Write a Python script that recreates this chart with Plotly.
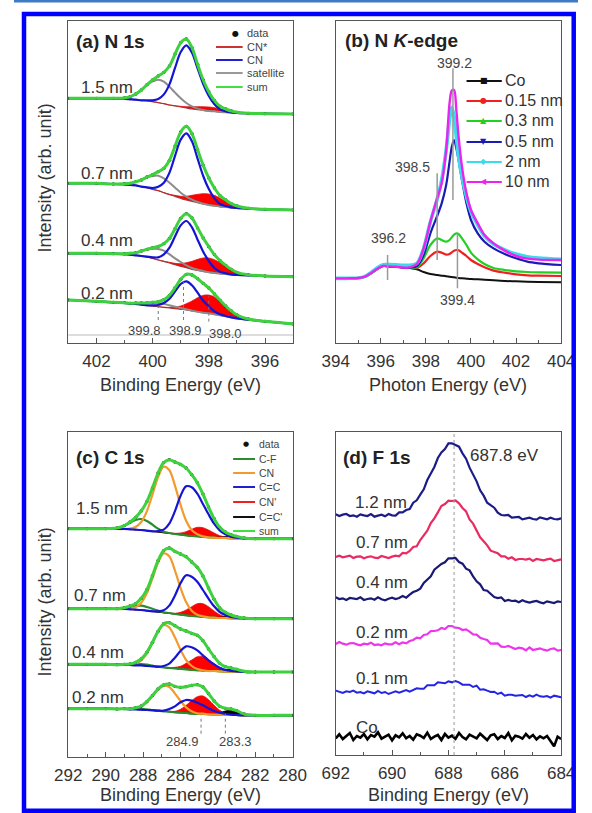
import plotly.graph_objects as go

W, H = 592, 813
FONT = "Liberation Sans, Arial, Helvetica, sans-serif"

# ---------------- (a) N 1s : binding energy grid and fitted components ----------------
A_E = [403.0, 402.0, 401.4, 401.0, 400.8, 400.6, 400.4, 400.2, 400.0, 399.8, 399.6, 399.4, 399.2,
       399.0, 398.8, 398.6, 398.4, 398.2, 398.0, 397.8, 397.6, 397.4, 397.2, 397.0, 396.6, 396.0, 395.0]
A_NAMES = ["1.5 nm", "0.7 nm", "0.4 nm", "0.2 nm"]
A_BG_15 = [734, 734, 733, 732, 731, 730, 728, 727, 724, 721, 718, 714, 711, 708, 705, 702, 700, 698, 696, 695, 693, 692, 691, 690, 689, 688, 687]
A_BG_07 = [479, 479, 477, 476, 474, 473, 469, 466, 461, 457, 451, 445, 440, 434, 429, 425, 421, 417, 414, 412, 409, 408, 406, 405, 403, 401, 399]
A_BG_04 = [269, 269, 268, 266, 265, 263, 261, 258, 254, 249, 245, 240, 235, 230, 226, 221, 218, 215, 212, 210, 208, 207, 205, 204, 203, 201, 199]
A_BG_02 = [129, 125, 122, 120, 118, 117, 115, 113, 111, 109, 107, 105, 103, 101, 99, 96, 94, 91, 89, 86, 83, 80, 77, 74, 70, 65, 57]
A_CN_15 = [0, 0, 0, 0, 0, 0, 0, 1, 4, 11, 28, 62, 115, 165, 188, 169, 124, 79, 45, 21, 8, 3, 1, 0, 0, 0, 0]
A_CN_07 = [0, 0, 0, 0, 0, 0, 0, 1, 4, 12, 30, 66, 122, 176, 200, 180, 132, 84, 48, 22, 8, 3, 1, 0, 0, 0, 0]
A_CN_04 = [0, 0, 0, 0, 0, 0, 0, 1, 3, 8, 21, 46, 85, 123, 140, 126, 92, 59, 34, 15, 6, 2, 1, 0, 0, 0, 0]
A_CN_02 = [0, 0, 0, 0, 0, 0, 0, 0, 2, 5, 13, 28, 52, 76, 86, 77, 57, 36, 21, 9, 3, 1, 0, 0, 0, 0, 0]
A_SAT_15 = [0, 0, 1, 3, 8, 17, 31, 47, 61, 69, 66, 55, 40, 26, 15, 8, 3, 1, 0, 0, 0, 0, 0, 0, 0, 0, 0]
A_SAT_07 = [0, 0, 0, 2, 5, 11, 20, 31, 40, 45, 43, 36, 26, 17, 10, 5, 2, 1, 0, 0, 0, 0, 0, 0, 0, 0, 0]
A_SAT_04 = [0, 0, 0, 2, 4, 8, 15, 22, 29, 33, 32, 26, 19, 13, 7, 4, 2, 1, 0, 0, 0, 0, 0, 0, 0, 0, 0]
A_SAT_02 = [0, 0, 0, 1, 1, 3, 5, 7, 9, 10, 10, 8, 6, 4, 2, 1, 0, 0, 0, 0, 0, 0, 0, 0, 0, 0, 0]
A_CNS_15 = [0, 0, 0, 0, 0, 0, 0, 0, 0, 0, 0, 0, 1, 2, 4, 7, 9, 11, 12, 11, 9, 7, 4, 2, 0, 0, 0]
A_CNS_07 = [0, 0, 0, 0, 0, 0, 0, 0, 0, 0, 0, 1, 3, 6, 11, 18, 25, 31, 33, 31, 25, 18, 11, 6, 1, 0, 0]
A_CNS_04 = [0, 0, 0, 0, 0, 0, 0, 0, 0, 0, 0, 2, 4, 8, 15, 24, 33, 40, 43, 40, 33, 24, 15, 8, 2, 0, 0]
A_CNS_02 = [0, 0, 0, 0, 0, 0, 0, 0, 0, 0, 0, 2, 5, 10, 19, 30, 42, 52, 55, 52, 42, 30, 19, 10, 2, 0, 0]
A_PEAK_LABELS = ["399.8", "398.9", "398.0"]

# ---------------- (b) N K-edge ----------------
B_E = [394.0, 394.5, 395.0, 395.3, 395.6, 395.9, 396.1, 396.4, 396.8, 397.2, 397.6, 397.9, 398.2, 398.5,
       398.7, 398.9, 399.05, 399.15, 399.25, 399.35, 399.45, 399.6, 399.8, 400.0, 400.3, 400.6, 401.0,
       401.5, 402.0, 402.5, 403.0, 404.0]
B_NAMES = ["Co", "0.15 nm", "0.3 nm", "0.5 nm", "2 nm", "10 nm"]
B_CO = [195, 195, 196, 200, 212, 226, 232, 231, 229, 227, 222, 214, 208, 205, 203, 201, 200, 199, 198, 197, 196, 195, 194, 193, 192, 191, 189, 187, 186, 185, 184, 183]
B_015 = [195, 195, 196, 200, 212, 226, 232, 231, 229, 227, 226, 240, 262, 275, 272, 266, 268, 273, 278, 280, 279, 272, 262, 250, 238, 228, 218, 212, 207, 204, 203, 202]
B_03 = [195, 195, 196, 200, 212, 226, 232, 231, 229, 227, 228, 255, 295, 315, 310, 305, 310, 318, 326, 330, 328, 315, 295, 272, 252, 238, 226, 220, 216, 214, 213, 212]
B_05 = [195, 195, 196, 200, 212, 226, 232, 231, 229, 227, 232, 265, 330, 382, 420, 475, 545, 590, 610, 585, 550, 490, 420, 370, 330, 305, 285, 268, 255, 245, 240, 235]
B_2 = [195, 195, 196, 201, 214, 229, 236, 236, 235, 234, 240, 285, 365, 432, 490, 580, 670, 708, 680, 620, 560, 500, 440, 395, 355, 322, 298, 280, 268, 260, 256, 252]
B_10 = [195, 195, 196, 200, 212, 226, 232, 231, 229, 227, 238, 285, 365, 435, 480, 580, 720, 758, 760, 700, 620, 530, 450, 400, 360, 325, 300, 278, 262, 254, 251, 250]
B_PEAK_LABELS = ["399.2", "398.5", "396.2", "399.4"]

# ---------------- (c) C 1s ----------------
C_E = [292.0, 291.0, 290.0, 289.4, 289.0, 288.7, 288.4, 288.1, 287.8, 287.5, 287.2, 286.9, 286.6, 286.3,
       286.0, 285.7, 285.4, 285.1, 284.8, 284.5, 284.2, 283.9, 283.6, 283.3, 283.0, 282.6, 282.0, 281.0, 280.0]
C_NAMES = ["1.5 nm", "0.7 nm", "0.4 nm", "0.2 nm"]
C_BG_15 = [685, 685, 685, 684, 684, 683, 682, 681, 679, 677, 675, 673, 671, 669, 667, 665, 663, 662, 660, 659, 658, 657, 657, 656, 656, 656, 655, 655, 655]
C_BG_07 = [445, 445, 445, 444, 444, 443, 442, 441, 439, 437, 435, 433, 431, 429, 427, 425, 423, 422, 420, 419, 418, 417, 417, 416, 416, 416, 415, 415, 415]
C_BG_04 = [278, 278, 278, 277, 277, 276, 275, 275, 273, 272, 270, 269, 267, 266, 264, 263, 261, 260, 259, 258, 258, 257, 256, 256, 256, 255, 255, 255, 255]
C_BG_02 = [145, 145, 145, 144, 144, 143, 143, 142, 141, 140, 138, 137, 136, 134, 133, 132, 130, 129, 129, 128, 127, 127, 126, 126, 126, 125, 125, 125, 125]
C_CF_15 = [0, 0, 0, 3, 10, 20, 29, 33, 29, 20, 10, 3, 1, 0, 0, 0, 0, 0, 0, 0, 0, 0, 0, 0, 0, 0, 0, 0, 0]
C_CF_07 = [0, 0, 0, 1, 4, 8, 11, 13, 11, 8, 4, 1, 1, 0, 0, 0, 0, 0, 0, 0, 0, 0, 0, 0, 0, 0, 0, 0, 0]
C_CF_04 = [0, 0, 0, 0, 1, 2, 4, 4, 4, 2, 1, 0, 0, 0, 0, 0, 0, 0, 0, 0, 0, 0, 0, 0, 0, 0, 0, 0, 0]
C_CF_02 = [0, 0, 0, 0, 1, 1, 2, 2, 2, 1, 1, 0, 0, 0, 0, 0, 0, 0, 0, 0, 0, 0, 0, 0, 0, 0, 0, 0, 0]
C_CN_15 = [0, 0, 0, 0, 0, 2, 8, 24, 58, 110, 164, 198, 190, 146, 90, 44, 18, 6, 2, 0, 0, 0, 0, 0, 0, 0, 0, 0, 0]
C_CN_07 = [0, 0, 0, 0, 0, 2, 7, 22, 52, 99, 148, 178, 171, 131, 81, 40, 16, 5, 2, 0, 0, 0, 0, 0, 0, 0, 0, 0, 0]
C_CN_04 = [0, 0, 0, 0, 0, 1, 5, 15, 37, 70, 105, 127, 122, 93, 58, 28, 12, 4, 1, 0, 0, 0, 0, 0, 0, 0, 0, 0, 0]
C_CN_02 = [0, 0, 0, 0, 0, 1, 3, 9, 23, 43, 64, 77, 74, 57, 35, 17, 7, 2, 1, 0, 0, 0, 0, 0, 0, 0, 0, 0, 0]
C_CC_15 = [0, 0, 0, 0, 0, 0, 0, 0, 0, 0, 3, 9, 29, 68, 116, 147, 146, 128, 99, 69, 42, 23, 11, 5, 2, 0, 0, 0, 0]
C_CC_07 = [0, 0, 0, 0, 0, 0, 0, 0, 0, 0, 2, 7, 23, 55, 94, 120, 118, 104, 81, 56, 34, 18, 9, 4, 1, 0, 0, 0, 0]
C_CC_04 = [0, 0, 0, 0, 0, 0, 0, 0, 0, 0, 1, 4, 13, 32, 54, 69, 68, 60, 46, 32, 20, 11, 5, 2, 1, 0, 0, 0, 0]
C_CC_02 = [0, 0, 0, 0, 0, 0, 0, 0, 0, 0, 1, 2, 8, 18, 31, 39, 39, 34, 26, 18, 11, 6, 3, 1, 0, 0, 0, 0, 0]
C_CNP_15 = [0, 0, 0, 0, 0, 0, 0, 0, 0, 0, 0, 0, 1, 2, 5, 11, 20, 27, 28, 22, 14, 7, 3, 1, 0, 0, 0, 0, 0]
C_CNP_07 = [0, 0, 0, 0, 0, 0, 0, 0, 0, 0, 0, 0, 1, 2, 7, 16, 28, 38, 40, 32, 20, 10, 4, 1, 0, 0, 0, 0, 0]
C_CNP_04 = [0, 0, 0, 0, 0, 0, 0, 0, 0, 0, 0, 0, 1, 3, 8, 18, 30, 41, 43, 34, 22, 10, 4, 1, 0, 0, 0, 0, 0]
C_CNP_02 = [0, 0, 0, 0, 0, 0, 0, 0, 0, 0, 0, 0, 1, 3, 10, 23, 39, 52, 54, 44, 28, 13, 5, 2, 1, 0, 0, 0, 0]
C_CCP_15 = [0, 0, 0, 0, 0, 0, 0, 0, 0, 0, 0, 0, 0, 0, 0, 0, 0, 0, 0, 0, 1, 2, 4, 5, 4, 1, 0, 0, 0]
C_CCP_07 = [0, 0, 0, 0, 0, 0, 0, 0, 0, 0, 0, 0, 0, 0, 0, 0, 0, 0, 0, 0, 1, 2, 4, 5, 4, 1, 0, 0, 0]
C_CCP_04 = [0, 0, 0, 0, 0, 0, 0, 0, 0, 0, 0, 0, 0, 0, 0, 0, 0, 0, 0, 0, 1, 3, 6, 8, 6, 2, 0, 0, 0]
C_CCP_02 = [0, 0, 0, 0, 0, 0, 0, 0, 0, 0, 0, 0, 0, 0, 0, 0, 0, 0, 0, 0, 2, 6, 12, 15, 12, 4, 0, 0, 0]
C_PEAK_LABELS = ["284.9", "283.3"]

# ---------------- (d) F 1s ----------------
D_E = [692.0, 691.875, 691.75, 691.625, 691.5, 691.375, 691.25, 691.125, 691.0, 690.875, 690.75, 690.625,
       690.5, 690.375, 690.25, 690.125, 690.0, 689.875, 689.75, 689.625, 689.5, 689.375, 689.25, 689.125,
       689.0, 688.875, 688.75, 688.625, 688.5, 688.375, 688.25, 688.125, 688.0, 687.875, 687.75, 687.625,
       687.5, 687.375, 687.25, 687.125, 687.0, 686.875, 686.75, 686.625, 686.5, 686.375, 686.25, 686.125,
       686.0, 685.875, 685.75, 685.625, 685.5, 685.375, 685.25, 685.125, 685.0, 684.875, 684.75, 684.625,
       684.5, 684.375, 684.25, 684.125, 684.0]
D_NAMES = ["1.2 nm", "0.7 nm", "0.4 nm", "0.2 nm", "0.1 nm", "Co"]
D_12 = [722, 717, 721, 723, 717, 719, 715, 722, 719, 717, 723, 715, 718, 721, 716, 723, 719, 718, 728, 728,
        735, 738, 757, 764, 781, 797, 825, 844, 864, 891, 908, 918, 935, 935, 930, 925, 905, 889, 862, 842,
        821, 794, 778, 757, 750, 742, 727, 720, 719, 720, 712, 713, 714, 707, 710, 712, 708, 706, 713, 710,
        707, 712, 708, 707, 710]
D_07 = [594, 598, 593, 595, 598, 591, 595, 596, 590, 594, 596, 592, 591, 597, 595, 591, 595, 598, 596, 606,
        605, 612, 624, 626, 645, 659, 673, 696, 710, 728, 747, 753, 763, 762, 764, 755, 741, 731, 707, 694,
        673, 653, 641, 629, 613, 608, 605, 596, 596, 589, 593, 585, 588, 588, 586, 589, 582, 588, 586, 584,
        587, 589, 582, 585, 587]
D_04 = [473, 468, 470, 465, 471, 470, 468, 473, 465, 468, 470, 466, 473, 467, 464, 469, 472, 468, 471, 477,
        472, 481, 489, 493, 499, 516, 525, 536, 556, 565, 573, 578, 590, 590, 591, 579, 574, 559, 554, 536,
        521, 512, 495, 493, 484, 474, 471, 473, 462, 465, 462, 463, 458, 464, 460, 457, 460, 462, 458, 455,
        461, 459, 456, 461, 459]
D_02 = [333, 339, 334, 331, 335, 336, 332, 329, 334, 332, 337, 330, 332, 329, 335, 332, 332, 338, 332, 338,
        335, 342, 345, 352, 350, 360, 362, 372, 372, 374, 381, 378, 387, 387, 382, 381, 375, 377, 370, 362,
        361, 352, 348, 345, 334, 335, 335, 325, 324, 327, 322, 318, 322, 320, 314, 323, 315, 317, 320, 316,
        313, 318, 320, 313, 315]
D_01 = [193, 189, 186, 191, 189, 193, 187, 189, 185, 191, 188, 185, 192, 186, 189, 183, 187, 191, 187, 191,
        195, 190, 195, 200, 199, 199, 209, 210, 209, 218, 216, 215, 221, 218, 222, 218, 211, 212, 211, 204,
        208, 196, 197, 193, 189, 190, 183, 187, 178, 181, 181, 178, 178, 180, 174, 179, 175, 181, 176, 175,
        177, 172, 178, 175, 173]
D_CO = [50, 62, 48, 58, 66, 45, 57, 52, 63, 47, 60, 55, 68, 49, 56, 61, 44, 59, 53, 65,
        50, 57, 46, 62, 58, 51, 67, 48, 55, 60, 45, 63, 52, 58, 49, 66, 54, 47, 61, 56,
        50, 64, 53, 45, 59, 62, 48, 57, 51, 66, 44, 58, 55, 49, 63, 52, 60, 47, 56, 50,
        57, 42, 26, 55, 48]

# ======================================================================
fig = go.Figure()


def add(*arrs):
    return [sum(v) for v in zip(*arrs)]


def line(x, y, sub, color, width, shape="spline", fill=None, fillcolor=None):
    fig.add_trace(go.Scatter(
        x=x, y=y, xaxis="x" + sub, yaxis="y" + sub, mode="lines",
        line=dict(color=color, width=width, shape=shape, smoothing=0.9 if shape == "spline" else None),
        fill=fill, fillcolor=fillcolor, hoverinfo="skip", showlegend=False))


def dots(x, y, sub):
    fig.add_trace(go.Scatter(x=x, y=y, xaxis="x" + sub, yaxis="y" + sub, mode="markers",
                             marker=dict(size=3.4, color="#111111"), hoverinfo="skip", showlegend=False))


def band(x, base, top, sub, color, edge):
    line(x, base, sub, "rgba(0,0,0,0)", 0)
    line(x, top, sub, edge, 0.8, fill="tonexty", fillcolor=color)


GREEN_SUM = "#3DD23D"

# ---- panel (a)
A_SETS = [(A_BG_15, A_CN_15, A_SAT_15, A_CNS_15), (A_BG_07, A_CN_07, A_SAT_07, A_CNS_07),
          (A_BG_04, A_CN_04, A_SAT_04, A_CNS_04), (A_BG_02, A_CN_02, A_SAT_02, A_CNS_02)]
for bg, cn, sat, cns in A_SETS:
    band(A_E, bg, add(bg, cns), "", "#FF0000", "#E01515")
    line(A_E, bg, "", "#A83232", 1.2)
    line(A_E, add(bg, sat), "", "#8C8C8C", 2)
    line(A_E, add(bg, cn), "", "#1414D4", 2.2)
    total = add(bg, cn, sat, cns)
    dots(A_E, total, "")
    line(A_E, total, "", GREEN_SUM, 3)

# ---- panel (b)
B_SERIES = [B_CO, B_015, B_03, B_05, B_2, B_10]
B_COLORS = ["#111111", "#F02020", "#22D022", "#1A1AB4", "#3ADCEC", "#EE22EE"]
B_WIDTHS = [2, 2.2, 2.2, 2.2, 3.6, 2.4]
for ys, c, w in zip(B_SERIES, B_COLORS, B_WIDTHS):
    line(B_E, ys, "2", c, w)

# ---- panel (c)
C_SETS = [(C_BG_15, C_CF_15, C_CN_15, C_CC_15, C_CNP_15, C_CCP_15),
          (C_BG_07, C_CF_07, C_CN_07, C_CC_07, C_CNP_07, C_CCP_07),
          (C_BG_04, C_CF_04, C_CN_04, C_CC_04, C_CNP_04, C_CCP_04),
          (C_BG_02, C_CF_02, C_CN_02, C_CC_02, C_CNP_02, C_CCP_02)]
for bg, cf, cn, cc, cnp, ccp in C_SETS:
    band(C_E, bg, add(bg, cnp), "3", "#FF0000", "#E01515")
    band(C_E, bg, add(bg, ccp), "3", "#000000", "#000000")
    line(C_E, bg, "3", "#222222", 1.2)
    line(C_E, add(bg, cf), "3", "#2D8A2D", 2.2)
    line(C_E, add(bg, cn), "3", "#F39A2E", 2.2)
    line(C_E, add(bg, cc), "3", "#1414D4", 2.2)
    total = add(bg, cf, cn, cc, cnp, ccp)
    dots(C_E, total, "3")
    line(C_E, total, "3", GREEN_SUM, 3)

# ---- panel (d)
D_SERIES = [D_12, D_07, D_04, D_02, D_01, D_CO]
D_COLORS = ["#1C1C86", "#E82C62", "#1A1A74", "#EC36EC", "#2424E6", "#000000"]
D_WIDTHS = [2.2, 2.2, 2.2, 2.2, 2.0, 2.6]
for ys, c, w in zip(D_SERIES, D_COLORS, D_WIDTHS):
    line(D_E, ys, "4", c, w, shape="linear")

# ======================================================================
ann, shapes = [], []


def text(x, y, s, size, anchor="center", color="#333333", angle=0, family=FONT):
    ann.append(dict(x=x / W, y=1 - y / H, xref="paper", yref="paper", text=s, showarrow=False,
                    xanchor=anchor, yanchor="middle", textangle=angle, borderpad=0,
                    font=dict(size=size, color=color, family=family)))


def pline(x0, y0, x1, y1, color, width, dash="solid"):
    shapes.append(dict(type="line", xref="paper", yref="paper", x0=x0 / W, y0=1 - y0 / H,
                       x1=x1 / W, y1=1 - y1 / H, line=dict(color=color, width=width, dash=dash)))


def vmark(sub, x, y0, y1, color, width, dash):
    shapes.append(dict(type="line", xref="x" + sub, yref="y" + sub, x0=x, x1=x, y0=y0, y1=y1,
                       line=dict(color=color, width=width, dash=dash)))


# blue frame and thin top rule
shapes.append(dict(type="rect", xref="paper", yref="paper", x0=0, x1=1, y0=1 - 2.6 / H, y1=1,
                   line=dict(width=0), fillcolor="#3E7AC6"))
shapes.append(dict(type="rect", xref="paper", yref="paper", x0=10.5 / W, x1=587.5 / W,
                   y0=1 - 810.8 / H, y1=1 - 14 / H, line=dict(color="#0000FF", width=4.5),
                   fillcolor="rgba(0,0,0,0)"))

# ---- panel (a) texts
text(64, 42, "<b>(a) N 1s</b>", 19, "left", "#222222")
for name, yy in zip(A_NAMES, [87, 173, 240, 293]):
    text(98, yy, name, 17)
for lab, xx, yy in zip(A_PEAK_LABELS, [137, 180, 222], [330, 330, 333]):
    text(xx, yy, lab, 13, color="#444444")
vmark("", 399.8, 69, 112, "#777777", 1, "dot")
vmark("", 398.9, 69, 184, "#777777", 1, "dot")
vmark("", 398.0, 64, 140, "#777777", 1, "dot")
shapes.append(dict(type="line", xref="x domain", yref="y", x0=0, x1=1, y0=24, y1=24,
                   line=dict(color="#BBBBBB", width=1)))
A_LEG = [("data", None), ("CN*", "#CC3333"), ("CN", "#2222CC"), ("satellite", "#999999"), ("sum", "#44DD44")]
for (lab, col), yy in zip(A_LEG, [33, 47, 60, 73, 87]):
    if col is None:
        text(232, yy, "●", 8, color="#111111", family="DejaVu Sans")
    else:
        pline(212, yy, 240, yy, col, 2)
    text(243, yy, lab, 11, "left", "#444444")

# ---- panel (b) texts
text(346, 40, "<b>(b) N <i>K</i>-edge</b>", 19, "left", "#222222")
for lab, xx, yy in zip(B_PEAK_LABELS, [462, 418, 393, 465], [63, 167, 238, 300]):
    text(xx, yy, lab, 14, color="#444444")
vmark("2", 399.2, 430, 825, "#999999", 1.5, "solid")
vmark("2", 398.5, 250, 510, "#999999", 1.5, "solid")
vmark("2", 396.3, 190, 265, "#999999", 1.5, "solid")
vmark("2", 399.4, 165, 330, "#999999", 1.5, "solid")
B_GLYPHS = ["■", "●", "▲", "▼", "◆", "◀"]
for name, col, g, yy in zip(B_NAMES, B_COLORS, B_GLYPHS, [81, 101, 121, 142, 162, 182]):
    pline(475, yy, 512, yy, col, 2.2)
    text(493, yy, g, 8, color=col, family="DejaVu Sans")
    text(514, yy, name, 16, "left", "#333333")

# ---- panel (c) texts
text(64, 457, "<b>(c) C 1s</b>", 19, "left", "#222222")
for name, xx, yy in zip(C_NAMES, [92, 90, 88, 88], [508, 595, 652, 697]):
    text(xx, yy, name, 17)
for lab, xx in zip(C_PEAK_LABELS, [177, 233]):
    text(xx, 741, lab, 13, color="#444444")
vmark("3", 284.9, 70, 125, "#777777", 1, "dot")
vmark("3", 283.6, 70, 130, "#777777", 1, "dot")
C_LEG = [("data", None), ("C-F", "#2D8A2D"), ("CN", "#F39A2E"), ("C=C", "#2020D0"),
         ("CN'", "#EE2020"), ("C=C'", "#111111"), ("sum", "#44DD44")]
for (lab, col), yy in zip(C_LEG, [444, 459, 473, 487, 502, 517, 531]):
    if col is None:
        text(243, yy, "●", 7, color="#111111", family="DejaVu Sans")
    else:
        pline(230, yy, 253, yy, col, 2)
    text(256, yy, lab, 10.5, "left", "#444444")

# ---- panel (d) texts
text(344, 457, "<b>(d) F 1s</b>", 19, "left", "#222222")
text(478, 455, "687.8 eV", 17, "left")
for name, xx, yy in zip(D_NAMES, [385, 386, 386, 386, 386, 370], [503, 542, 582, 632, 678, 727]):
    text(xx, yy, name, 17)
shapes.append(dict(type="line", xref="x4", yref="y4 domain", x0=687.8, x1=687.8, y0=0, y1=1,
                   line=dict(color="#999999", width=1, dash="dot")))

# ---- axis titles
text(175, 385, "Binding Energy (eV)", 18)
text(456, 385, "Photon Energy (eV)", 18)
text(175, 795, "Binding Energy (eV)", 18)
text(456, 795, "Binding Energy (eV)", 18)
text(33, 178, "Intensity (arb. unit)", 18, angle=-90)
text(33, 602, "Intensity (arb. unit)", 18, angle=-90)

# ======================================================================
AX = "#555555"


def xax(px0, px1, rng):
    return dict(domain=[px0 / W, px1 / W], range=rng, showline=True, mirror=True, linecolor=AX,
                linewidth=1.3, ticks="inside", ticklen=5, tickwidth=1.2, tickcolor=AX, dtick=2, tick0=0,
                minor=dict(ticks="inside", ticklen=3, tickwidth=1, tickcolor=AX, dtick=1, tick0=0,
                           showgrid=False),
                tickfont=dict(size=17, color="#333333", family=FONT), ticklabelstandoff=2,
                showgrid=False, zeroline=False, fixedrange=True)


def yax(py0, py1, rng):
    return dict(domain=[1 - py1 / H, 1 - py0 / H], range=rng, showline=True, mirror=True, linecolor=AX,
                linewidth=1.3, ticks="", showticklabels=False, showgrid=False, zeroline=False,
                fixedrange=True)


fig.update_layout(
    width=W, height=H, margin=dict(l=0, r=0, t=0, b=0),
    paper_bgcolor="white", plot_bgcolor="white", showlegend=False,
    xaxis=dict(xax(57, 293, [403, 395]), anchor="y"),
    yaxis=dict(yax(21, 343, [0, 966]), anchor="x"),
    xaxis2=dict(xax(337.7, 574.3, [394, 404]), anchor="y2"),
    yaxis2=dict(yax(21, 343, [1, 967]), anchor="x2"),
    xaxis3=dict(xax(57, 292.5, [292, 280]), anchor="y3"),
    yaxis3=dict(yax(432, 757, [0, 975]), anchor="x3"),
    xaxis4=dict(xax(337.7, 574.3, [692, 684]), anchor="y4"),
    yaxis4=dict(yax(432, 755, [0, 969]), anchor="x4"),
    annotations=ann, shapes=shapes,
)

fig.write_html(
    "out.html",
    config=dict(displayModeBar=False, responsive=False),
    post_script="document.body.style.margin='0';document.body.style.overflow='hidden';"
                "document.documentElement.style.overflow='hidden';",
)
